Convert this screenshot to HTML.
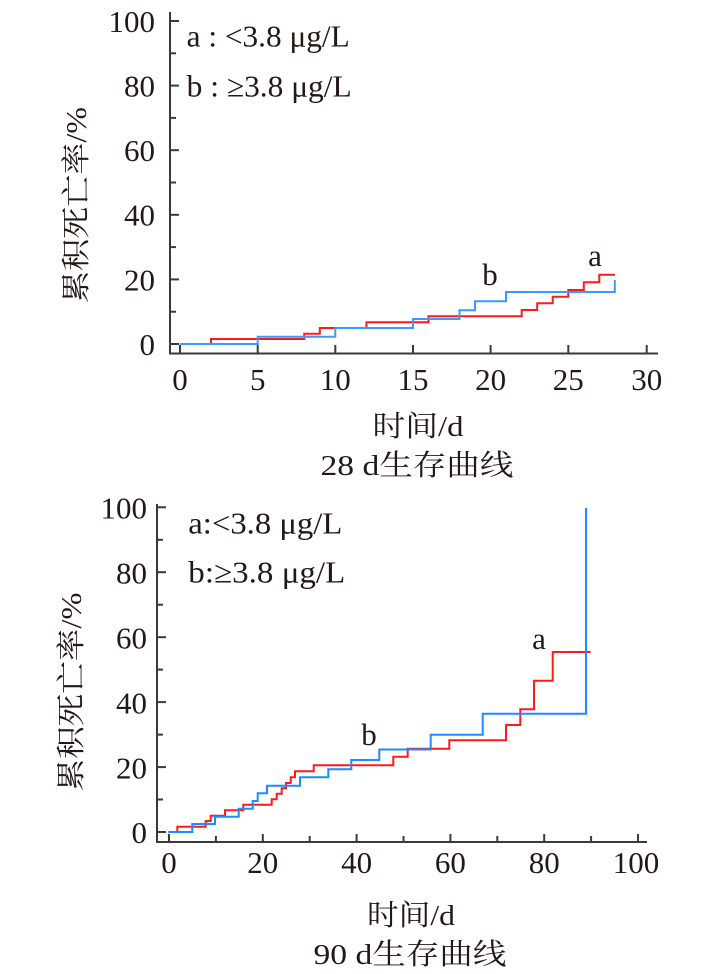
<!DOCTYPE html>
<html><head><meta charset="utf-8"><style>
html,body{margin:0;padding:0;background:#fff;}
svg{display:block;}
text{font-family:"Liberation Serif","Noto Serif CJK SC","Noto Serif CJK JP",serif;fill:#231815;}
</style></head><body>
<svg width="703" height="974" viewBox="0 0 703 974" xmlns="http://www.w3.org/2000/svg" font-family="Liberation Serif, Noto Serif CJK SC, serif">
<!-- ===== TOP CHART ===== -->
<g stroke="#3a3a3a" stroke-width="2" fill="none">
  <line x1="170" y1="12" x2="170" y2="354.5"/>
  <line x1="169" y1="353.5" x2="658" y2="353.5"/>
  <line x1="170" y1="21" x2="179" y2="21"/>
  <line x1="170" y1="53.3" x2="176" y2="53.3"/>
  <line x1="170" y1="85.6" x2="179" y2="85.6"/>
  <line x1="170" y1="117.9" x2="176" y2="117.9"/>
  <line x1="170" y1="150.2" x2="179" y2="150.2"/>
  <line x1="170" y1="182.5" x2="176" y2="182.5"/>
  <line x1="170" y1="214.8" x2="179" y2="214.8"/>
  <line x1="170" y1="247.1" x2="176" y2="247.1"/>
  <line x1="170" y1="279.4" x2="179" y2="279.4"/>
  <line x1="170" y1="311.7" x2="176" y2="311.7"/>
  <line x1="170" y1="344" x2="179" y2="344"/>
  <line x1="180" y1="345" x2="180" y2="353"/>
  <line x1="257.7" y1="345" x2="257.7" y2="353"/>
  <line x1="335.3" y1="345" x2="335.3" y2="353"/>
  <line x1="413" y1="345" x2="413" y2="353"/>
  <line x1="490.6" y1="345" x2="490.6" y2="353"/>
  <line x1="568.3" y1="345" x2="568.3" y2="353"/>
  <line x1="646.7" y1="345" x2="646.7" y2="353"/>
</g>
<g font-size="31" text-anchor="end">
  <text x="155" y="32">100</text>
  <text x="155" y="96.5">80</text>
  <text x="155" y="161">60</text>
  <text x="155" y="225.7">40</text>
  <text x="155" y="290.3">20</text>
  <text x="155" y="355">0</text>
</g>
<g font-size="31" text-anchor="middle">
  <text x="180" y="390">0</text>
  <text x="257.7" y="390">5</text>
  <text x="335.3" y="390">10</text>
  <text x="413" y="390">15</text>
  <text x="490.6" y="390">20</text>
  <text x="568.3" y="390">25</text>
  <text x="646.7" y="390">30</text>
</g>
<text x="186.7" y="46.5" font-size="31" textLength="163" lengthAdjust="spacingAndGlyphs">a : &lt;3.8 μg/L</text>
<text x="186.7" y="96.5" font-size="31" textLength="165" lengthAdjust="spacingAndGlyphs">b : ≥3.8 μg/L</text>
<text transform="translate(86,205) rotate(-90)" font-size="29" text-anchor="middle" textLength="196" lengthAdjust="spacingAndGlyphs">累积死亡率/%</text>
<text x="418" y="436" font-size="29" text-anchor="middle" textLength="91" lengthAdjust="spacingAndGlyphs">时间/d</text>
<text x="417" y="475" font-size="29" text-anchor="middle" textLength="193" lengthAdjust="spacingAndGlyphs">28 d生存曲线</text>
<path d="M180,344 H211 V339 H304.2 V333.7 H319.8 V328 H366.4 V322.3 H428.5 V316.3 H521.7 V310 H537.2 V303.3 H552.7 V296.7 H568.3 V290 H583.8 V282.3 H599.3 V274.7 H615" fill="none" stroke="#ff1a1a" stroke-width="2"/>
<path d="M180,344 H257.7 V336.7 H335.3 V328 H413 V319 H459.5 V310.3 H475 V301.3 H506 V292 H614.8 V280" fill="none" stroke="#3a9bff" stroke-width="2"/>
<text x="595" y="266" font-size="31" text-anchor="middle">a</text>
<text x="490" y="285" font-size="31" text-anchor="middle">b</text>

<!-- ===== BOTTOM CHART ===== -->
<g stroke="#3a3a3a" stroke-width="2" fill="none">
  <line x1="157" y1="504" x2="157" y2="843"/>
  <line x1="156" y1="842" x2="647" y2="842"/>
  <line x1="157" y1="507.3" x2="166" y2="507.3"/>
  <line x1="157" y1="539.8" x2="163" y2="539.8"/>
  <line x1="157" y1="572.2" x2="166" y2="572.2"/>
  <line x1="157" y1="604.7" x2="163" y2="604.7"/>
  <line x1="157" y1="637.2" x2="166" y2="637.2"/>
  <line x1="157" y1="669.6" x2="163" y2="669.6"/>
  <line x1="157" y1="702.1" x2="166" y2="702.1"/>
  <line x1="157" y1="734.6" x2="163" y2="734.6"/>
  <line x1="157" y1="767.1" x2="166" y2="767.1"/>
  <line x1="157" y1="799.5" x2="163" y2="799.5"/>
  <line x1="157" y1="832" x2="166" y2="832"/>
  <line x1="169" y1="834" x2="169" y2="842"/>
  <line x1="215.9" y1="836" x2="215.9" y2="842"/>
  <line x1="262.8" y1="834" x2="262.8" y2="842"/>
  <line x1="309.7" y1="836" x2="309.7" y2="842"/>
  <line x1="356.6" y1="834" x2="356.6" y2="842"/>
  <line x1="403.5" y1="836" x2="403.5" y2="842"/>
  <line x1="450.4" y1="834" x2="450.4" y2="842"/>
  <line x1="497.3" y1="836" x2="497.3" y2="842"/>
  <line x1="544.2" y1="834" x2="544.2" y2="842"/>
  <line x1="591.1" y1="836" x2="591.1" y2="842"/>
  <line x1="638" y1="834" x2="638" y2="842"/>
</g>
<g font-size="31" text-anchor="end">
  <text x="147" y="518.5">100</text>
  <text x="147" y="583.4">80</text>
  <text x="147" y="648.4">60</text>
  <text x="147" y="713.3">40</text>
  <text x="147" y="778.3">20</text>
  <text x="147" y="843.2">0</text>
</g>
<g font-size="31" text-anchor="middle">
  <text x="169" y="873">0</text>
  <text x="262.8" y="873">20</text>
  <text x="356.6" y="873">40</text>
  <text x="450.4" y="873">60</text>
  <text x="544.2" y="873">80</text>
  <text x="636" y="873">100</text>
</g>
<text x="188.3" y="533.5" font-size="31" textLength="154" lengthAdjust="spacingAndGlyphs">a:&lt;3.8 μg/L</text>
<text x="188.3" y="582.5" font-size="31" textLength="157" lengthAdjust="spacingAndGlyphs">b:≥3.8 μg/L</text>
<text transform="translate(81,692) rotate(-90)" font-size="29" text-anchor="middle" textLength="199" lengthAdjust="spacingAndGlyphs">累积死亡率/%</text>
<text x="411" y="925" font-size="29" text-anchor="middle" textLength="88" lengthAdjust="spacingAndGlyphs">时间/d</text>
<text x="410" y="964" font-size="29" text-anchor="middle" textLength="193" lengthAdjust="spacingAndGlyphs">90 d生存曲线</text>
<path d="M168.3,832 H177.3 V826.7 H205.7 V821 H210.7 V815.7 H225 V810.3 H243.3 V804.7 H271.7 V799.3 H276.7 V793.7 H281.7 V788.3 H286 V783 H290.7 V777.3 H295 V771.3 H313.7 V765.2 H393.3 V756.7 H407.7 V748.7 H449.3 V740.3 H506 V725 H520.3 V709.3 H534 V680.7 H552.7 V652 H590.7" fill="none" stroke="#ff1a1a" stroke-width="2"/>
<path d="M168.3,832 H192.3 V824 H215 V816.7 H238.7 V808.7 H252.7 V801 H257.7 V793.3 H267 V785.7 H300 V777.3 H328.3 V769.3 H351.3 V760 H379.3 V749.5 H430.7 V734.7 H482.7 V713.7 H586 V508" fill="none" stroke="#1a8cff" stroke-width="2"/>
<text x="539" y="649" font-size="31" text-anchor="middle">a</text>
<text x="369" y="745" font-size="31" text-anchor="middle">b</text>
</svg>
</body></html>
